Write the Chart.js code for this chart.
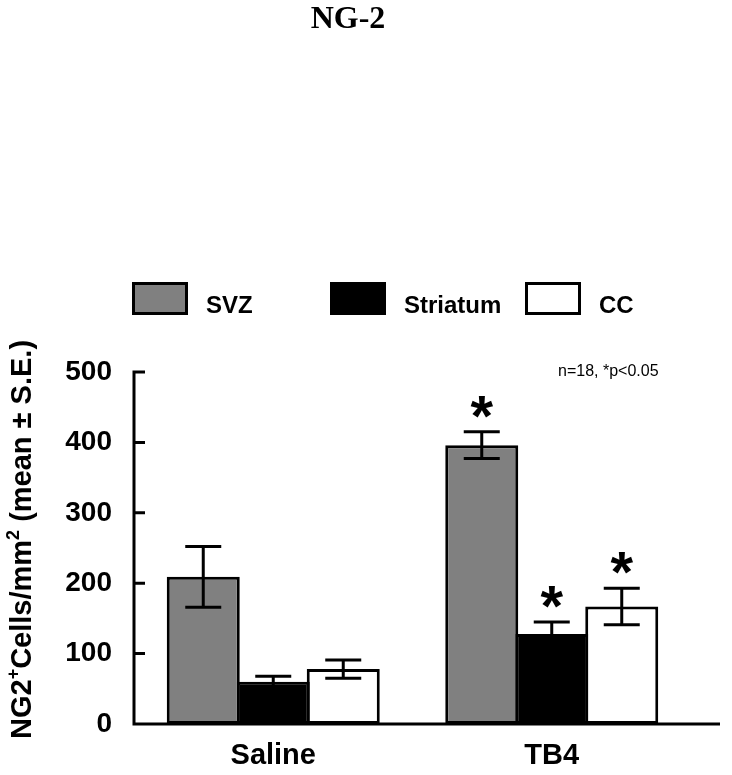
<!DOCTYPE html>
<html>
<head>
<meta charset="utf-8">
<script src="https://cdn.jsdelivr.net/npm/chart.js@4/dist/chart.umd.min.js"></script>
<style>
  html, body { margin: 0; padding: 0; background: #fff; }
</style>
</head>
<body>
<canvas id="ng2" width="732" height="775"></canvas>
<script>
// data
var groups = ['Saline', 'TB4'];
var regions = ['SVZ', 'Striatum', 'CC'];
var svzMean = [209, 396];
var svzErr = [43, 19];
var striatumMean = [60, 128];
var striatumErr = [8, 17];
var ccMean = [78, 167];
var ccErr = [13, 26];
var starred = [false, true];   // *p<0.05 vs saline
var yTicks = [0, 100, 200, 300, 400, 500];
var noteText = 'n=18, *p<0.05';

var SANS = '"Liberation Sans", Arial, sans-serif';
var SERIF = '"Liberation Serif", "Times New Roman", serif';

// draws axes, error bars, stars, legend and the texts
var decor = {
    id: 'decor',
    afterDatasetsDraw: function (chart) {
        var ctx = chart.ctx;
        var y = chart.scales.y;
        var a = chart.chartArea;
        ctx.save();
        ctx.strokeStyle = '#000';
        ctx.fillStyle = '#000';
        ctx.lineWidth = 3;
        chart.data.datasets.forEach(function (ds, di) {
            var meta = chart.getDatasetMeta(di);
            meta.data.forEach(function (bar, i) {
                var hi = y.getPixelForValue(ds.data[i] + ds.err[i]);
                var lo = y.getPixelForValue(ds.data[i] - ds.err[i]);
                ctx.beginPath();
                ctx.moveTo(bar.x, hi); ctx.lineTo(bar.x, lo);
                ctx.moveTo(bar.x - 18, hi); ctx.lineTo(bar.x + 18, hi);
                ctx.moveTo(bar.x - 18, lo); ctx.lineTo(bar.x + 18, lo);
                ctx.stroke();
                if (starred[i]) {
                    ctx.font = 'bold 58px ' + SANS;
                    ctx.textAlign = 'center';
                    ctx.textBaseline = 'alphabetic';
                    ctx.fillText('*', bar.x, hi - 29 + 33);
                }
            });
        });
        // axes with inward ticks
        ctx.beginPath();
        ctx.moveTo(a.left, a.top - 1.5); ctx.lineTo(a.left, a.bottom);
        ctx.moveTo(a.left - 1.5, a.bottom); ctx.lineTo(720, a.bottom);
        yTicks.forEach(function (v) {
            var py = y.getPixelForValue(v);
            ctx.moveTo(a.left, py); ctx.lineTo(a.left + 11, py);
        });
        ctx.stroke();
        ctx.restore();
    },
    afterDraw: function (chart) {
        var ctx = chart.ctx;
        ctx.save();
        ctx.fillStyle = '#000';
        ctx.textBaseline = 'alphabetic';
        // title
        ctx.font = 'bold 32px ' + SERIF;
        ctx.textAlign = 'center';
        ctx.fillText('NG-2', 348, 28);
        // legend
        var boxX = [132, 330, 525];
        ctx.textAlign = 'left';
        ctx.font = 'bold 24px ' + SANS;
        ctx.lineWidth = 3;
        chart.data.datasets.forEach(function (ds, di) {
            ctx.fillStyle = ds.backgroundColor;
            ctx.fillRect(boxX[di] + 1.5, 283.5, 53, 30);
            ctx.strokeStyle = '#000';
            ctx.strokeRect(boxX[di] + 1.5, 283.5, 53, 30);
            ctx.fillStyle = '#000';
            ctx.fillText(ds.label, boxX[di] + 74, 313);
        });
        // note
        ctx.font = '16px ' + SANS;
        ctx.fillText(noteText, 558, 376);
        // rotated y title with superscripts
        ctx.translate(30.5, 739);
        ctx.rotate(-Math.PI / 2);
        var parts = [['NG2', 0], ['+', 1], ['Cells/mm', 0], ['2', 1], [' (mean \u00b1 S.E.)', 0]];
        var px = 0;
        parts.forEach(function (p) {
            ctx.font = p[1] ? 'bold 18px ' + SANS : 'bold 29px ' + SANS;
            ctx.fillText(p[0], px, p[1] ? -12 : 0);
            px += ctx.measureText(p[0]).width;
        });
        ctx.restore();
    }
};

function makeSet(label, data, err, fill) {
    return {
        label: label,
        data: data,
        err: err,
        backgroundColor: fill,
        borderColor: '#000',
        borderWidth: 3,
        borderSkipped: false,
        categoryPercentage: 0.754,
        barPercentage: 1.043
    };
}

new Chart(document.getElementById('ng2'), {
    type: 'bar',
    data: {
        labels: groups,
        datasets: [
            makeSet(regions[0], svzMean, svzErr, '#808080'),
            makeSet(regions[1], striatumMean, striatumErr, '#000000'),
            makeSet(regions[2], ccMean, ccErr, '#ffffff')
        ]
    },
    options: {
        responsive: false,
        devicePixelRatio: 1,
        animation: false,
        layout: { padding: { top: 372, right: 41, left: 0, bottom: 0 } },
        plugins: {
            legend: { display: false },
            title: { display: false },
            tooltip: { enabled: false }
        },
        scales: {
            x: {
                grid: { display: false, drawTicks: false },
                border: { display: false },
                ticks: { color: '#000', padding: 15, font: { family: SANS, size: 29, weight: 'bold' } },
                afterFit: function (s) { s.height = 51; }
            },
            y: {
                min: 0,
                max: 500,
                grid: { display: false, drawTicks: false },
                border: { display: false },
                afterBuildTicks: function (s) { s.ticks = yTicks.map(function (v) { return { value: v }; }); },
                ticks: { color: '#000', padding: 22, font: { family: SANS, size: 28, weight: 'bold' } },
                afterFit: function (s) { s.width = 134; }
            }
        }
    },
    plugins: [decor]
});
</script>
</body>
</html>
